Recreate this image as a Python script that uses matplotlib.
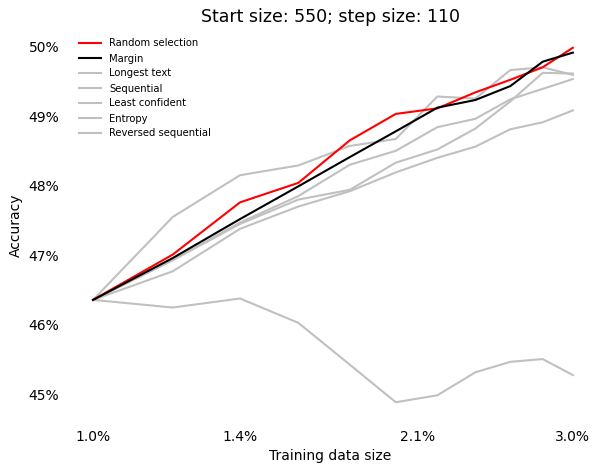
import numpy as np
import matplotlib
matplotlib.use("Agg")
import matplotlib.pyplot as plt
from matplotlib.ticker import FixedLocator, FuncFormatter, NullLocator

# training sizes: start 550, step 110, out of 55000 samples
total = 55000
sizes = [550, 660, 770, 880, 990, 1100, 1210, 1320, 1430, 1540, 1650]
pct = [100.0 * s / total for s in sizes]

random_sel = [46.36, 47.01, 47.76, 48.04, 48.65, 49.03, 49.11, 49.34, 49.52, 49.70, 49.98]
margin = [46.36, 46.96, 47.52, 47.99, 48.41, 48.78, 49.12, 49.23, 49.43, 49.78, 49.91]
longest = [46.36, 47.55, 48.15, 48.29, 48.57, 48.67, 49.28, 49.25, 49.66, 49.70, 49.59]
sequential = [46.36, 46.93, 47.47, 47.85, 48.30, 48.50, 48.84, 48.96, 49.24, 49.39, 49.53]
least_conf = [46.36, 46.93, 47.45, 47.80, 47.94, 48.33, 48.52, 48.82, 49.21, 49.62, 49.61]
entropy = [46.36, 46.77, 47.38, 47.70, 47.92, 48.19, 48.40, 48.56, 48.81, 48.91, 49.08]
reversed_seq = [46.36, 46.25, 46.38, 46.03, 45.43, 44.89, 44.99, 45.32, 45.47, 45.51, 45.28]

xticks = [1.0, 1.4, 2.1, 3.0]
yticks = [45, 46, 47, 48, 49, 50]

fig = plt.figure(figsize=(5.92, 4.66), dpi=100)
ax = fig.add_axes([69 / 592, 1 - 420 / 466, 523 / 592, 390 / 466])

gray = "#c0c0c0"
ax.plot(pct, random_sel, color="red", lw=1.5, label="Random selection", zorder=3)
ax.plot(pct, margin, color="black", lw=1.5, label="Margin", zorder=3)
ax.plot(pct, longest, color=gray, lw=1.5, label="Longest text")
ax.plot(pct, sequential, color=gray, lw=1.5, label="Sequential")
ax.plot(pct, least_conf, color=gray, lw=1.5, label="Least confident")
ax.plot(pct, entropy, color=gray, lw=1.5, label="Entropy")
ax.plot(pct, reversed_seq, color=gray, lw=1.5, label="Reversed sequential")

ax.set_xscale("log")
ax.set_xlim(np.exp(-24 / 435), np.exp(497 / 435))
ax.set_ylim(44.635, 50.235)
ax.xaxis.set_major_locator(FixedLocator(xticks))
ax.xaxis.set_minor_locator(NullLocator())
ax.xaxis.set_major_formatter(FuncFormatter(lambda v, p: f"{v:.1f}%"))
ax.yaxis.set_major_locator(FixedLocator(yticks))
ax.yaxis.set_major_formatter(FuncFormatter(lambda v, p: f"{v:.0f}%"))
ax.tick_params(length=0, labelsize=10, pad=7)
for s in ax.spines.values():
    s.set_visible(False)

ax.set_xlabel("Training data size", fontsize=10)
ax.set_ylabel("Accuracy", fontsize=10)
ax.set_title("Start size: 550; step size: 110", fontsize=12.5)

fig.legend(loc="upper left", bbox_to_anchor=(75 / 592, 1 - 34.5 / 466),
           frameon=False, fontsize=7.2, labelspacing=0.5, handlelength=2.2,
           handletextpad=0.8, borderaxespad=0)

fig.savefig("out.png", dpi=100)
